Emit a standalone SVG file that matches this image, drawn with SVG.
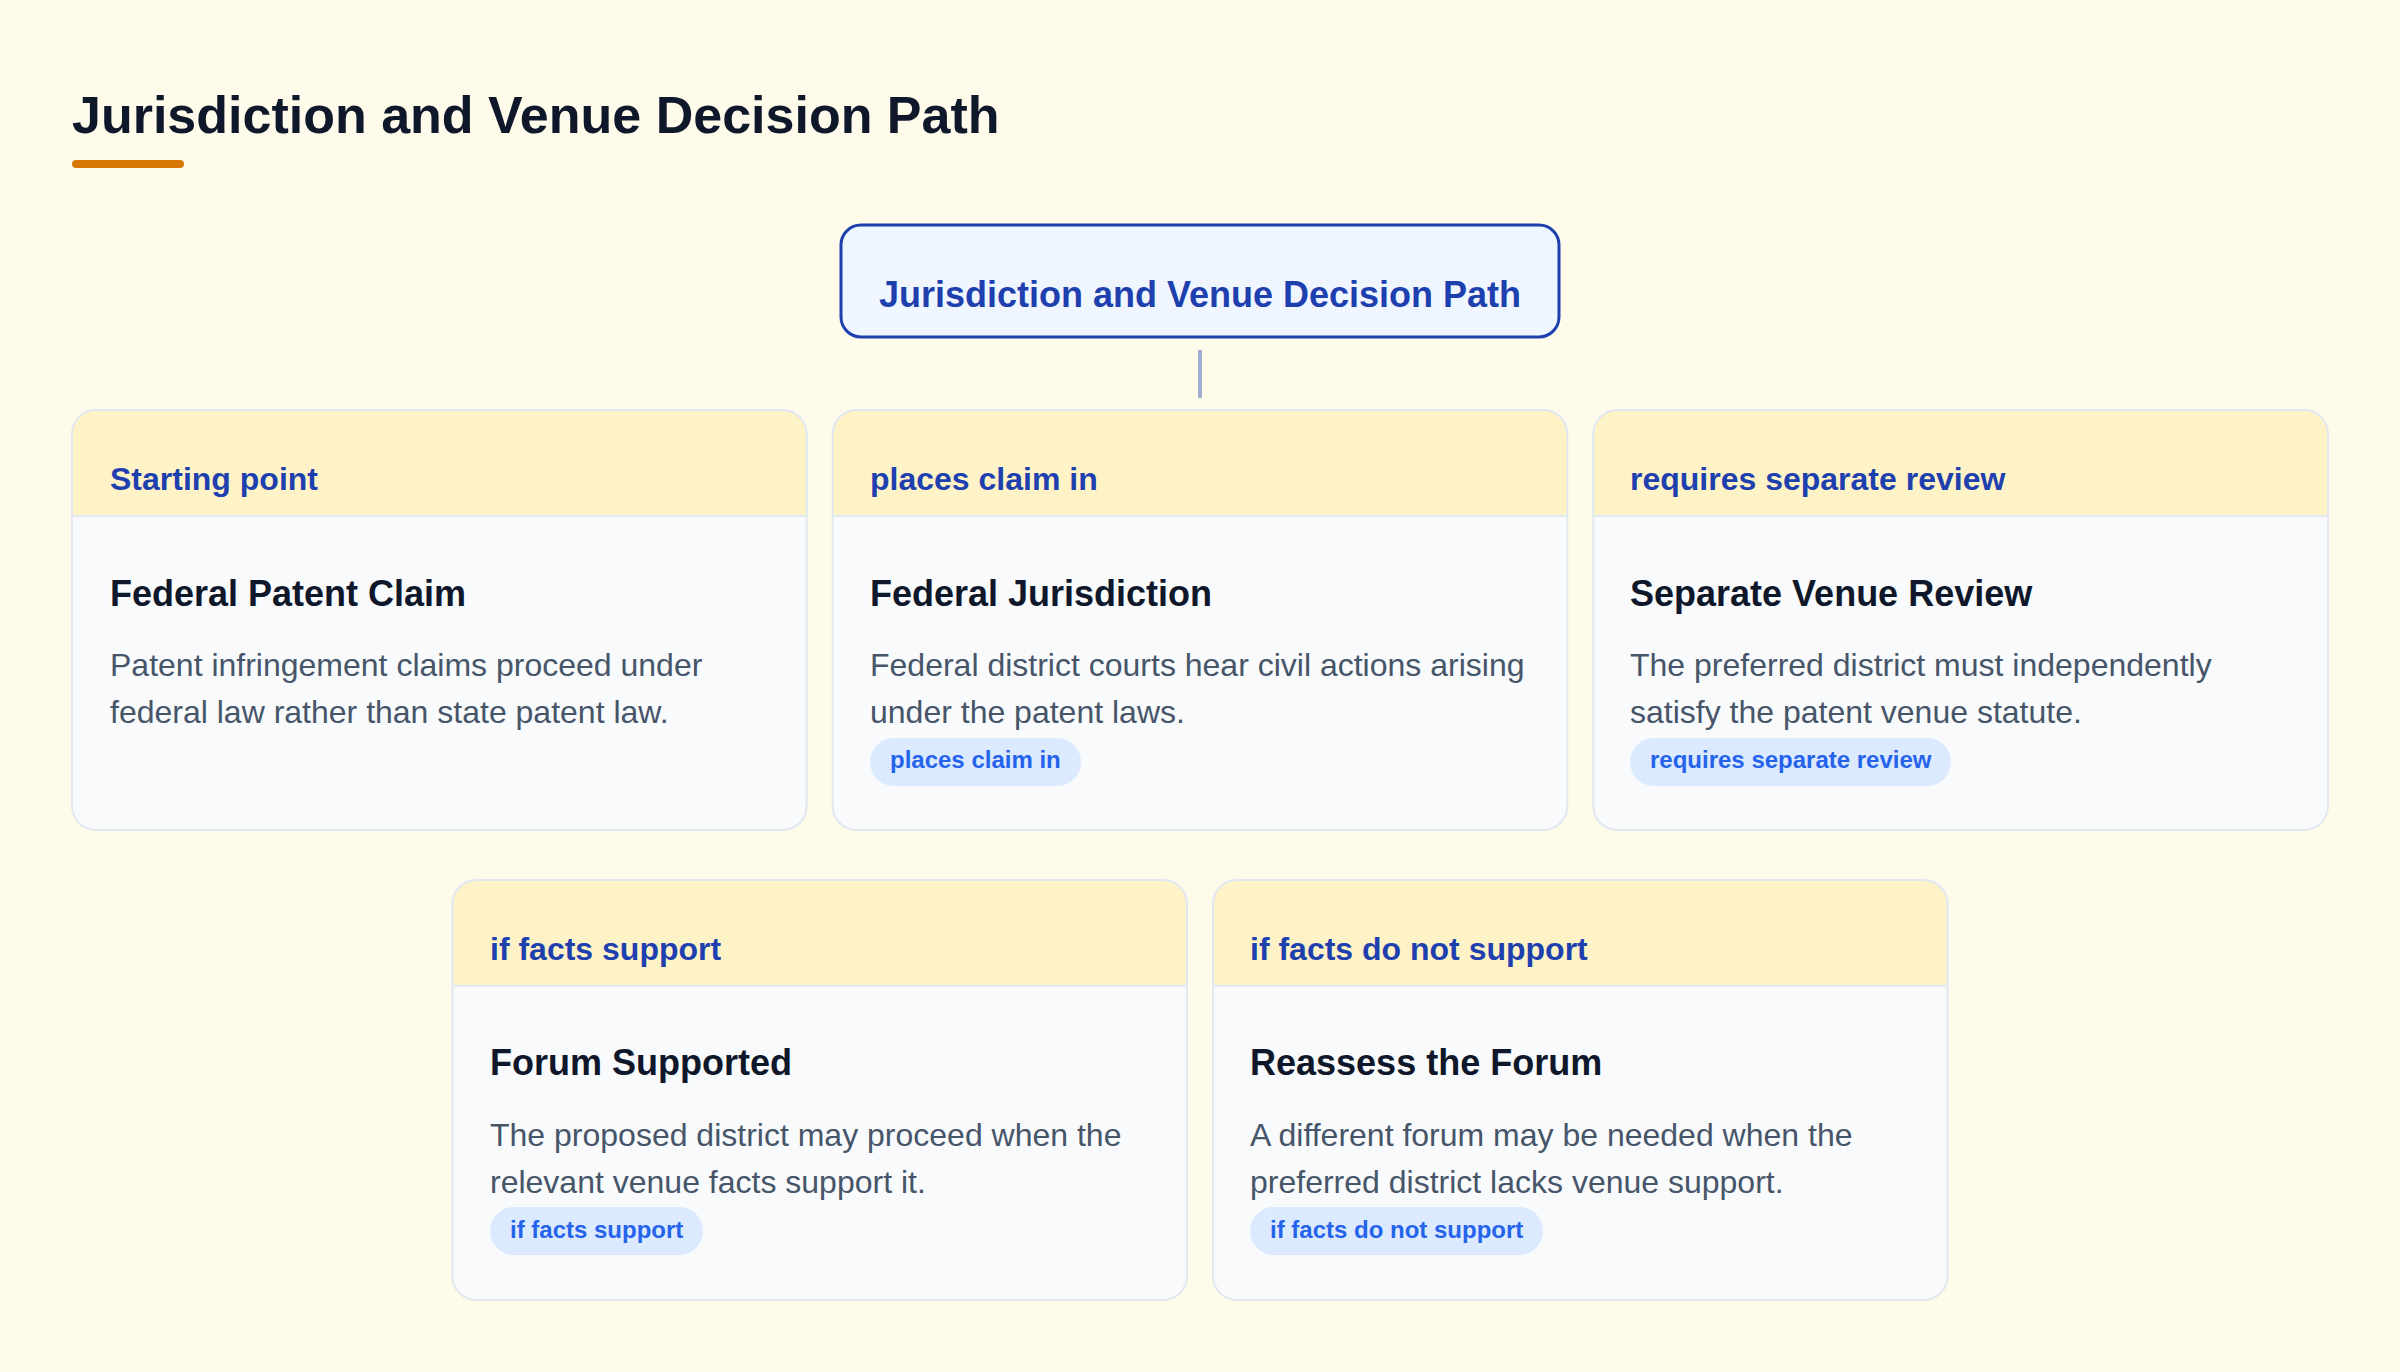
<svg xmlns="http://www.w3.org/2000/svg" width="2400" height="1372" viewBox="0 0 2400 1372">
<defs>
<style>
.bg{fill:#fffbeb}
.title{font-family:"Liberation Sans",Arial,sans-serif;font-weight:700;font-size:52px;fill:#0f172a}
.root-box{fill:#eff6ff;stroke:#1e40af;stroke-width:3}
.root-text{font-family:"Liberation Sans",Arial,sans-serif;font-weight:700;font-size:36px;fill:#1e40af;text-anchor:middle}
.card{fill:#f8fafc}
.card-border{fill:none;stroke:#e2e8f0;stroke-width:2}
.band{fill:#fef3c7}
.divider{stroke:#e2e8f0;stroke-width:2}
.label{font-family:"Liberation Sans",Arial,sans-serif;font-weight:700;font-size:32px;fill:#1e40af}
.heading{font-family:"Liberation Sans",Arial,sans-serif;font-weight:700;font-size:36px;fill:#0f172a}
.body{font-family:"Liberation Sans",Arial,sans-serif;font-size:32px;fill:#475569}
.pill{fill:#dbeafe}
.pill-text{font-family:"Liberation Sans",Arial,sans-serif;font-weight:700;font-size:24px;fill:#2563eb}
.conn{stroke:#1e40af;stroke-opacity:0.42;stroke-width:4;fill:none}
</style>
</defs>
<rect class="bg" x="0" y="0" width="2400" height="1372"/>
<text class="title" x="72" y="133">Jurisdiction and Venue Decision Path</text>
<rect x="72" y="160" width="112" height="8" rx="4" fill="#d97706"/>

<g id="connectors">
<line class="conn" x1="1200" y1="350" x2="1200" y2="398"/>
</g>

<g id="root">
<rect class="root-box" x="841" y="225" width="718" height="112" rx="20"/>
<text class="root-text" x="1200" y="307">Jurisdiction and Venue Decision Path</text>
</g>

<g id="federal-patent-claim">
<rect class="card" x="72" y="410" width="734.67" height="420" rx="24"/>
<path class="band" d="M72,516 V434 A24,24 0 0 1 96,410 H782.67 A24,24 0 0 1 806.67,434 V516 Z"/>
<line class="divider" x1="72" y1="516" x2="806.67" y2="516"/>
<rect class="card-border" x="72" y="410" width="734.67" height="420" rx="24"/>
<text class="label" x="110" y="490">Starting point</text>
<text class="heading" x="110" y="606">Federal Patent Claim</text>
<text class="body" x="110" y="676">Patent infringement claims proceed under</text>
<text class="body" x="110" y="723">federal law rather than state patent law.</text>
</g>

<g id="federal-jurisdiction">
<rect class="card" x="832.67" y="410" width="734.67" height="420" rx="24"/>
<path class="band" d="M832.67,516 V434 A24,24 0 0 1 856.67,410 H1543.33 A24,24 0 0 1 1567.33,434 V516 Z"/>
<line class="divider" x1="832.67" y1="516" x2="1567.33" y2="516"/>
<rect class="card-border" x="832.67" y="410" width="734.67" height="420" rx="24"/>
<text class="label" x="870" y="490">places claim in</text>
<text class="heading" x="870" y="606">Federal Jurisdiction</text>
<text class="body" x="870" y="676">Federal district courts hear civil actions arising</text>
<text class="body" x="870" y="723">under the patent laws.</text>
<rect class="pill" x="870" y="738" width="211" height="48" rx="24"/>
<text class="pill-text" x="890" y="768">places claim in</text>
</g>

<g id="separate-venue-review">
<rect class="card" x="1593.33" y="410" width="734.67" height="420" rx="24"/>
<path class="band" d="M1593.33,516 V434 A24,24 0 0 1 1617.33,410 H2304 A24,24 0 0 1 2328,434 V516 Z"/>
<line class="divider" x1="1593.33" y1="516" x2="2328" y2="516"/>
<rect class="card-border" x="1593.33" y="410" width="734.67" height="420" rx="24"/>
<text class="label" x="1630" y="490">requires separate review</text>
<text class="heading" x="1630" y="606">Separate Venue Review</text>
<text class="body" x="1630" y="676">The preferred district must independently</text>
<text class="body" x="1630" y="723">satisfy the patent venue statute.</text>
<rect class="pill" x="1630" y="738" width="321" height="48" rx="24"/>
<text class="pill-text" x="1650" y="768">requires separate review</text>
</g>

<g id="forum-supported">
<rect class="card" x="452.33" y="880" width="734.67" height="420" rx="24"/>
<path class="band" d="M452.33,986 V904 A24,24 0 0 1 476.33,880 H1163 A24,24 0 0 1 1187,904 V986 Z"/>
<line class="divider" x1="452.33" y1="986" x2="1187" y2="986"/>
<rect class="card-border" x="452.33" y="880" width="734.67" height="420" rx="24"/>
<text class="label" x="490" y="960">if facts support</text>
<text class="heading" x="490" y="1075">Forum Supported</text>
<text class="body" x="490" y="1146">The proposed district may proceed when the</text>
<text class="body" x="490" y="1193">relevant venue facts support it.</text>
<rect class="pill" x="490" y="1207" width="213" height="48" rx="24"/>
<text class="pill-text" x="510" y="1238">if facts support</text>
</g>

<g id="reassess-the-forum">
<rect class="card" x="1213" y="880" width="734.67" height="420" rx="24"/>
<path class="band" d="M1213,986 V904 A24,24 0 0 1 1237,880 H1923.67 A24,24 0 0 1 1947.67,904 V986 Z"/>
<line class="divider" x1="1213" y1="986" x2="1947.67" y2="986"/>
<rect class="card-border" x="1213" y="880" width="734.67" height="420" rx="24"/>
<text class="label" x="1250" y="960">if facts do not support</text>
<text class="heading" x="1250" y="1075">Reassess the Forum</text>
<text class="body" x="1250" y="1146">A different forum may be needed when the</text>
<text class="body" x="1250" y="1193">preferred district lacks venue support.</text>
<rect class="pill" x="1250" y="1207" width="293" height="48" rx="24"/>
<text class="pill-text" x="1270" y="1238">if facts do not support</text>
</g>
</svg>
